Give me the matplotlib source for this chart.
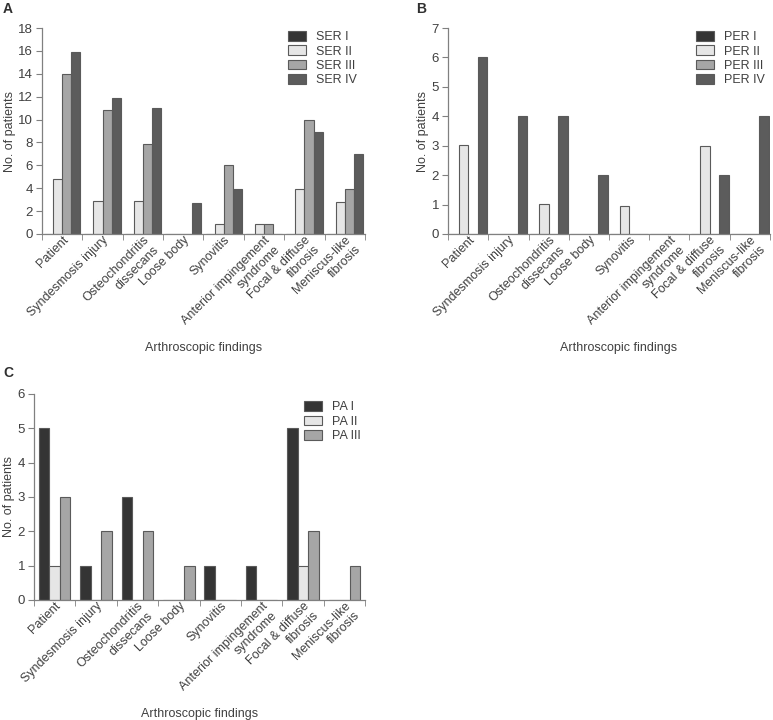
import numpy as np
import matplotlib
matplotlib.use('Agg')
import matplotlib.pyplot as plt
from matplotlib.transforms import ScaledTranslation

plt.rcParams['font.family'] = ['Liberation Sans', 'DejaVu Sans']
plt.rcParams['font.size'] = 9

findings = ['Patient', 'Syndesmosis injury', 'Osteochondritis\ndissecans', 'Loose body',
            'Synovitis', 'Anterior impingement\nsyndrome', 'Focal & diffuse\nfibrosis',
            'Meniscus-like\nfibrosis']

ser_labels = ['SER I', 'SER II', 'SER III', 'SER IV']
ser_1 = [0, 0, 0, 0, 0, 0, 0, 0]
ser_2 = [4.8, 2.85, 2.9, 0, 0.9, 0.9, 3.9, 2.8]
ser_3 = [14, 10.85, 7.9, 0, 6, 0.9, 10, 3.9]
ser_4 = [15.9, 11.85, 11, 2.75, 3.9, 0, 8.9, 6.95]

per_labels = ['PER I', 'PER II', 'PER III', 'PER IV']
per_1 = [0, 0, 0, 0, 0, 0, 0, 0]
per_2 = [3.03, 0, 1.02, 0, 0.94, 0, 3.0, 0]
per_3 = [0, 0, 0, 0, 0, 0, 0, 0]
per_4 = [6, 4, 4, 2.02, 0, 0, 2.02, 4]

pa_labels = ['PA I', 'PA II', 'PA III']
pa_1 = [5, 1, 3, 0, 1, 1, 5, 0]
pa_2 = [1, 0, 0, 0, 0, 0, 1, 0]
pa_3 = [3, 2, 2, 1, 0, 0, 2, 1]

colors4 = ['#343434', '#e6e6e6', '#a6a6a6', '#5c5c5c']
colors3 = ['#343434', '#e6e6e6', '#a6a6a6']
text_col = '#404040'
axis_col = '#808080'

fig = plt.figure(figsize=(7.73, 7.2), dpi=100)


def draw_panel(rect, series, labels, colors, ymax, group_pad, letter, letter_xy,
               leg_xy, xlabel_x):
    ax = fig.add_axes(rect)
    n = len(series)
    x = np.arange(len(findings))
    width = (1 - 2 * group_pad) / n
    for i, (vals, lab, col) in enumerate(zip(series, labels, colors)):
        ax.bar(x + group_pad + i * width, vals, width, align='edge', color=col,
               edgecolor='#5a5a5a', linewidth=0.8, label=lab)
    ax.set_xlim(0, len(findings))
    ax.set_ylim(0, ymax)
    ax.set_yticks(np.arange(0, ymax + 1, 2 if ymax > 10 else 1))
    ax.set_xticks(np.arange(len(findings) + 1), minor=True)
    ax.set_xticks(x + 0.5)
    ax.set_xticklabels(findings, rotation=45, ha='right', va='top',
                       rotation_mode='anchor', multialignment='right', color=text_col,
                       fontsize=9)
    offset = ScaledTranslation(0.01, -0.06, fig.dpi_scale_trans)
    for t in ax.get_xticklabels():
        t.set_transform(t.get_transform() + offset)
    ax.tick_params(axis='x', which='major', length=0, pad=0)
    ax.tick_params(axis='x', which='minor', length=4, color=axis_col, direction='out')
    ax.tick_params(axis='y', length=4, pad=2.5, color=axis_col, labelcolor=text_col,
                   labelsize=9.5)
    for s in ['top', 'right']:
        ax.spines[s].set_visible(False)
    for s in ['left', 'bottom']:
        ax.spines[s].set_color(axis_col)
        ax.spines[s].set_linewidth(0.9)
    ax.set_ylabel('No. of patients', color=text_col, fontsize=9, labelpad=1.5)
    ax.set_xlabel('Arthroscopic findings', color=text_col, fontsize=9)
    ax.xaxis.set_label_coords(xlabel_x, -0.523)
    leg = ax.legend(loc='upper left', bbox_to_anchor=leg_xy, frameon=False,
                    fontsize=9, handlelength=1.45, handleheight=0.8, labelspacing=0.18,
                    handletextpad=0.8, borderpad=0, borderaxespad=0)
    for t in leg.get_texts():
        t.set_color(text_col)
    fig.text(letter_xy[0], letter_xy[1], letter, fontsize=10, fontweight='bold',
             color='#303030', ha='left', va='top')
    return ax


draw_panel([0.0543, 0.675, 0.4179, 0.2861], [ser_1, ser_2, ser_3, ser_4], ser_labels,
           colors4, 18, 0.05, 'A', (0.004, 0.997), (0.762, 0.985), 0.5)
draw_panel([0.5796, 0.675, 0.4165, 0.2861], [per_1, per_2, per_3, per_4], per_labels,
           colors4, 7, 0.03, 'B', (0.538, 0.997), (0.770, 0.985), 0.53)
draw_panel([0.044, 0.1667, 0.4282, 0.2861], [pa_1, pa_2, pa_3], pa_labels,
           colors3, 6, 0.12, 'C', (0.004, 0.491), (0.816, 0.965), 0.5)

fig.savefig('out.png', dpi=100)
